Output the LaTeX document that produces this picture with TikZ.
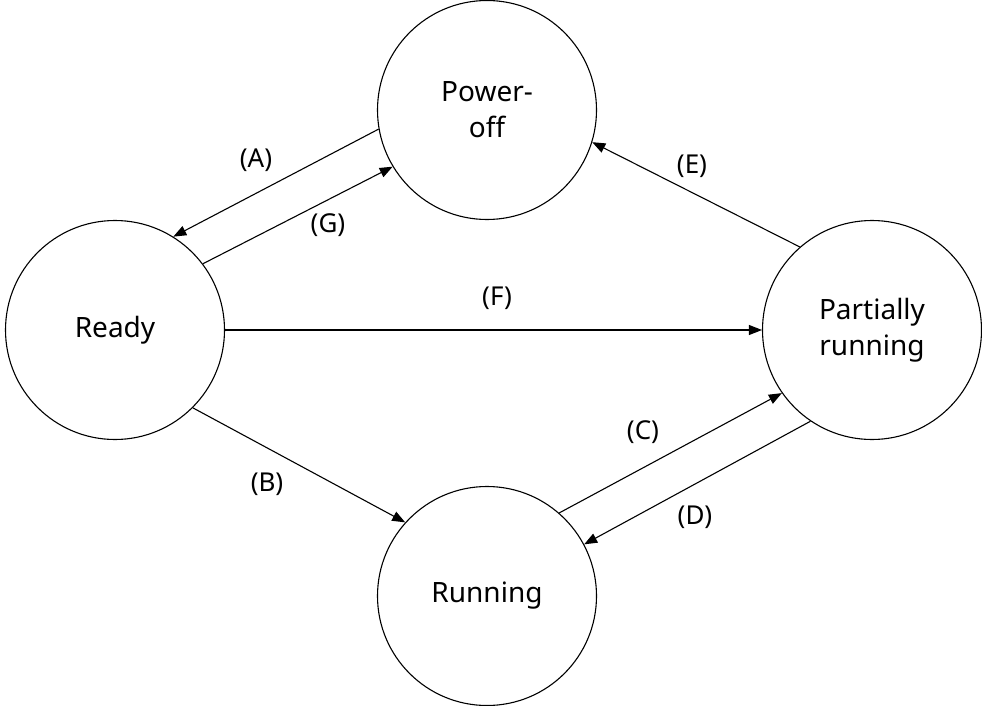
\documentclass[tikz,border=0pt]{standalone}
\usepackage{fontspec}
\setmainfont{Noto Sans}
\usetikzlibrary{arrows.meta}
\begin{document}
\begin{tikzpicture}[x=1pt,y=-1pt,
  state/.style={circle,draw,line width=1.1pt,minimum size=219pt,inner sep=0pt,align=center,font=\fontsize{28}{36}\selectfont},
  conn/.style={line width=1.1pt,-{Triangle[length=13pt,width=10pt]}},
  lbl/.style={font=\fontsize{26}{30}\selectfont,inner sep=0pt}]
\useasboundingbox (0,0) rectangle (982,706);
\node[state] (P) at (487,110) {Power-\\off};
\node[state] (R) at (115,330) {Ready};
\node[state] (Q) at (872,330) {Partially\\running};
\node[state] (U) at (487,596) {Running};
\draw[conn] (P.190.3) -- (R.58.2);
\draw[conn] (R.37.6) -- (P.211);
\draw[conn] (Q.131.8) -- (P.-17.3);
\draw[conn] (R.east) -- (Q.west);
\draw[conn] (R.-45) -- (U.138);
\draw[conn] (U.49.8) -- (Q.215.2);
\draw[conn] (Q.236.3) -- (U.28.4);
\node[lbl] (lA) at (256,160) {(A)};
\node[lbl] (lG) at (328,225) {(G)};
\node[lbl] (lE) at (692,166) {(E)};
\node[lbl] (lF) at (497,298) {(F)};
\node[lbl] (lB) at (267,484) {(B)};
\node[lbl] (lC) at (643,432) {(C)};
\node[lbl] (lD) at (695,517) {(D)};
\end{tikzpicture}
\end{document}
